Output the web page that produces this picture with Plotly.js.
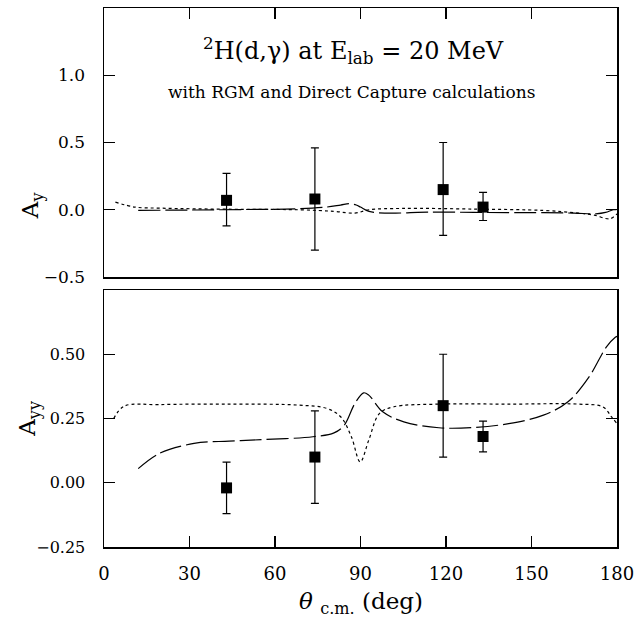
<!DOCTYPE html>
<html><head><meta charset="utf-8">
<script src="https://cdn.plot.ly/plotly-3.0.1.min.js"></script>
<style>html,body{margin:0;padding:0;background:#fff}</style>
</head><body><div id="chart" style="width:637px;height:624px"></div>
<script>
// Measured data points
const dataTheta = [43, 74, 119, 133];
const Ay = [0.07, 0.08, 0.15, 0.02];
const AyErrPlus = [0.20, 0.38, 0.35, 0.11];
const AyErrMinus = [0.19, 0.38, 0.34, 0.10];
const Ayy = [-0.02, 0.10, 0.30, 0.18];
const AyyErrPlus = [0.10, 0.18, 0.20, 0.06];
const AyyErrMinus = [0.10, 0.18, 0.20, 0.06];

// RGM calculation (long dashed) for Ay
const rgmAyTheta = [12, 30, 50, 68, 78, 83, 86.2, 88.5, 90, 93, 99, 110, 117.5, 130, 154, 165, 172.6, 176, 178.7, 180];
const rgmAy = [-0.005, -0.002, 0.002, 0.007, 0.02, 0.035, 0.045, 0.035, 0.02, -0.012, -0.025, -0.02, -0.017, -0.02, -0.022, -0.025, -0.03, -0.02, 0.0, 0.0];
// Direct capture (dotted) for Ay
const dcAyTheta = [4, 10.8, 20, 31.6, 50, 68.4, 80.7, 88, 93, 105, 130, 154, 166.5, 172, 177.5, 180];
const dcAy = [0.057, 0.02, 0.012, 0.007, 0.003, 0.0, -0.012, -0.025, 0.0, 0.01, 0.005, -0.005, -0.025, -0.04, -0.067, -0.03];

// RGM calculation (long dashed) for Ayy
const rgmAyyTheta = [12, 19.4, 31.6, 43.9, 56.2, 73.3, 80.7, 84.3, 88, 91.1, 92.9, 97.8, 105.2, 117.5, 129.7, 142, 154.2, 162.8, 170.2, 176.3, 179.4, 180];
const rgmAyy = [0.055, 0.114, 0.153, 0.162, 0.168, 0.179, 0.194, 0.224, 0.308, 0.350, 0.341, 0.276, 0.237, 0.214, 0.215, 0.230, 0.263, 0.315, 0.412, 0.529, 0.566, 0.57];
// Direct capture (dotted) for Ayy
const dcAyyTheta = [3.4, 7.1, 19.4, 43.9, 68.4, 78.2, 83.1, 86.8, 89.9, 92.9, 96.6, 101.5, 117.5, 142, 166.5, 175.1, 178.1, 180];
const dcAyy = [0.25, 0.298, 0.304, 0.306, 0.302, 0.289, 0.256, 0.179, 0.081, 0.166, 0.269, 0.295, 0.306, 0.306, 0.306, 0.295, 0.256, 0.23];

const xTicks = [0, 30, 60, 90, 120, 150, 180];
const ayTicks = [-0.5, 0.0, 0.5, 1.0];
const ayTickText = ['\u22120.5', '0.0', '0.5', '1.0'];
const ayyTicks = [-0.25, 0.0, 0.25, 0.50];
const ayyTickText = ['\u22120.25', '0.00', '0.25', '0.50'];

const serif = 'DejaVu Serif, Liberation Serif, serif';

const markerStyle = {symbol: 'square', size: 11, color: '#000'};
function errStyle(plus, minus) {
  return {type: 'data', symmetric: false, array: plus, arrayminus: minus,
          color: '#000', thickness: 1.2, width: 4};
}

const traces = [
  {x: rgmAyTheta, y: rgmAy, xaxis: 'x2', yaxis: 'y2', mode: 'lines', line: {color: '#000', width: 1.2, dash: '22px,5px', shape: 'spline'}, hoverinfo: 'skip'},
  {x: dcAyTheta, y: dcAy, xaxis: 'x2', yaxis: 'y2', mode: 'lines', line: {color: '#000', width: 1.2, dash: '3px,3px', shape: 'spline'}, hoverinfo: 'skip'},
  {x: dataTheta, y: Ay, xaxis: 'x2', yaxis: 'y2', mode: 'markers', marker: markerStyle, error_y: errStyle(AyErrPlus, AyErrMinus)},
  {x: rgmAyyTheta, y: rgmAyy, xaxis: 'x', yaxis: 'y', mode: 'lines', line: {color: '#000', width: 1.2, dash: '22px,5px', shape: 'spline'}, hoverinfo: 'skip'},
  {x: dcAyyTheta, y: dcAyy, xaxis: 'x', yaxis: 'y', mode: 'lines', line: {color: '#000', width: 1.2, dash: '3px,3px', shape: 'spline'}, hoverinfo: 'skip'},
  {x: dataTheta, y: Ayy, xaxis: 'x', yaxis: 'y', mode: 'markers', marker: markerStyle, error_y: errStyle(AyyErrPlus, AyyErrMinus)}
];

const axisCommon = {showgrid: false, zeroline: false, showline: true, linecolor: '#000', linewidth: 1.5,
  ticks: 'inside', ticklen: 11, tickwidth: 1.2, tickcolor: '#000'};

const layout = {
  width: 637, height: 624,
  margin: {l: 104, r: 20, t: 8, b: 77},
  paper_bgcolor: '#fff', plot_bgcolor: '#fff',
  showlegend: false,
  font: {family: serif, color: '#000', size: 16},
  xaxis: Object.assign({}, axisCommon, {domain: [0, 1], range: [0, 180], anchor: 'y', tickvals: xTicks,
    ticktext: xTicks.map(String), mirror: true, ticklabelstandoff: 10, tickfont: {family: serif, size: 18}}),
  yaxis: Object.assign({}, axisCommon, {domain: [0, 0.4768], range: [-0.25, 0.75], anchor: 'x', tickvals: ayyTicks,
    ticktext: ayyTickText, mirror: 'ticks', ticklabelstandoff: 14, tickfont: {family: serif, size: 16}}),
  xaxis2: Object.assign({}, axisCommon, {domain: [0, 1], range: [0, 180], anchor: 'y2', side: 'top', tickvals: xTicks.slice(1, 6),
    showticklabels: false, mirror: true}),
  yaxis2: Object.assign({}, axisCommon, {domain: [0.5009, 1], range: [-0.5, 1.5], anchor: 'x2', tickvals: ayTicks,
    ticktext: ayTickText, mirror: 'ticks', ticklabelstandoff: 14, tickfont: {family: serif, size: 17}}),
  annotations: [
    {xref: 'paper', yref: 'paper', x: 0.487, y: 0.922, xanchor: 'center', yanchor: 'middle', showarrow: false,
     text: '<sup>2</sup>H(d,\u03b3) at E<sub>lab</sub> = 20 MeV', font: {family: serif, size: 24, color: '#000'}},
    {xref: 'paper', yref: 'paper', x: 0.482, y: 0.845, xanchor: 'center', yanchor: 'middle', showarrow: false,
     text: 'with RGM and Direct Capture calculations', font: {family: serif, size: 17, color: '#000'}},
    {xref: 'paper', yref: 'paper', x: -0.14, y: 0.6345, xanchor: 'center', yanchor: 'middle', showarrow: false, textangle: -90,
     text: 'A<sub>y</sub>', font: {family: serif, size: 23, color: '#000'}},
    {xref: 'paper', yref: 'paper', x: -0.145, y: 0.239, xanchor: 'center', yanchor: 'middle', showarrow: false, textangle: -90,
     text: 'A<sub>yy</sub>', font: {family: serif, size: 23, color: '#000'}},
    {xref: 'paper', yref: 'paper', x: 0.5, y: -0.104, xanchor: 'center', yanchor: 'middle', showarrow: false,
     text: '<i>\u03b8</i> <sub>c.m.</sub> (deg)', font: {family: serif, size: 23, color: '#000'}}
  ]
};

Plotly.newPlot('chart', traces, layout, {staticPlot: true, displayModeBar: false});
</script></body></html>
